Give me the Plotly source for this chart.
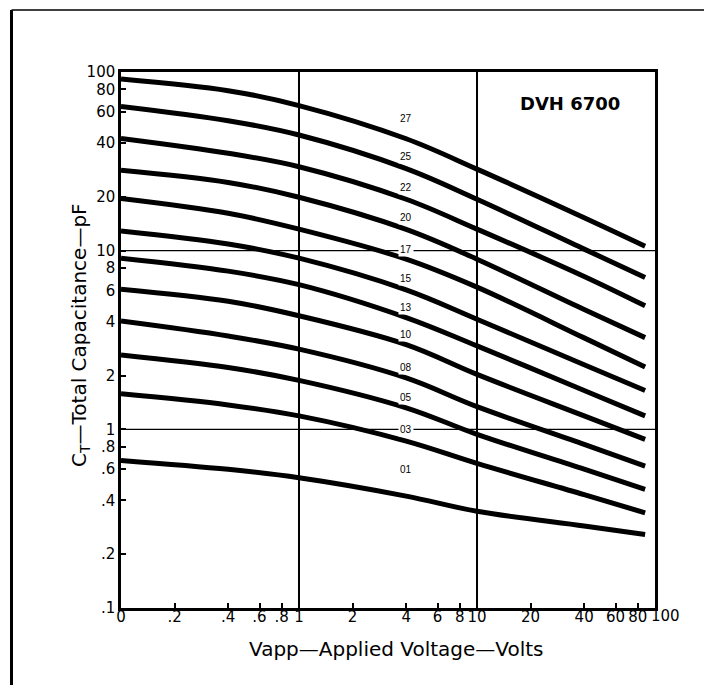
import math
import plotly.graph_objects as go

# ---------------- data ----------------
# Applied voltage sample points (V). "0" is drawn at the axis origin (0.1 position, labelled "0").
VOLTS = [0, 0.4, 1, 4, 10, 40, 88]

CURVE_NAMES = ["27", "25", "22", "20", "17", "15", "13", "10", "08", "05", "03", "01"]

C_27 = [91.4, 78.6, 64.9, 42.3, 28.6, 15.3, 10.6]
C_25 = [64.2, 53.4, 44.4, 28.8, 19.4, 10.2, 7.08]
C_22 = [42.5, 35.1, 29.5, 19.4, 13.2, 7.17, 4.91]
C_20 = [28.2, 24.1, 19.9, 13.15, 8.96, 4.68, 3.26]
C_17 = [19.6, 16.2, 13.2, 8.97, 6.25, 3.25, 2.23]
C_15 = [12.9, 10.9, 9.08, 6.03, 4.13, 2.30, 1.65]
C_13 = [9.08, 7.68, 6.45, 4.22, 2.93, 1.65, 1.19]
C_10 = [6.09, 5.21, 4.32, 2.98, 2.03, 1.19, 0.879]
C_08 = [4.04, 3.33, 2.81, 1.94, 1.34, 0.824, 0.623]
C_05 = [2.61, 2.22, 1.88, 1.32, 0.938, 0.598, 0.461]
C_03 = [1.58, 1.37, 1.19, 0.86, 0.645, 0.431, 0.341]
C_01 = [0.67, 0.597, 0.536, 0.423, 0.348, 0.288, 0.258]

CURVES = [C_27, C_25, C_22, C_20, C_17, C_15, C_13, C_10, C_08, C_05, C_03, C_01]

X_TICK_VALS = [0, 0.2, 0.4, 0.6, 0.8, 1, 2, 4, 6, 8, 10, 20, 40, 60, 80, 100]
X_TICK_TEXT = ["0", ".2", ".4", ".6", ".8", "1", "2", "4", "6", "8", "10", "20", "40", "60", "80", "100"]
Y_TICK_VALS = [0.1, 0.2, 0.4, 0.6, 0.8, 1, 2, 4, 6, 8, 10, 20, 40, 60, 80, 100]
Y_TICK_TEXT = [".1", ".2", ".4", ".6", ".8", "1", "2", "4", "6", "8", "10", "20", "40", "60", "80", "100"]

X_GRID = [1, 10]
Y_GRID = [1, 10]

X_TITLE = "Vapp—Applied Voltage—Volts"
Y_TITLE = "C<sub>T</sub>—Total Capacitance—pF"
PART = "DVH 6700"

LABEL_VOLT = 4  # curve labels sit above each curve at this voltage

# ---------------- helpers ----------------
X_ORIGIN = 0.1  # chart's "0" sits at the 0.1 position of the log axis


def ax_v(v):
    return X_ORIGIN if v == 0 else v


OFF = 8  # page body margin
W, H = 712 - OFF, 685 - OFF
PL, PR, PT, PB = 121, 655, 72, 608  # plot area in window pixels
L, T = PL - OFF, PT - OFF
R, B = W - (PR - OFF), H - (PB - OFF)
PW, PH = PR - PL, PB - PT


def px_x(p):
    return (p - PL) / PW


def px_y(p):
    return (PB - p) / PH


FONT = "DejaVu Sans, Liberation Sans, Arial, sans-serif"

fig = go.Figure()

# grid lines (as data lines)
for gx in X_GRID:
    fig.add_trace(go.Scatter(x=[gx, gx], y=[0.1, 100], mode="lines",
                             line=dict(color="black", width=2), hoverinfo="skip", showlegend=False))
for gy in Y_GRID:
    fig.add_trace(go.Scatter(x=[X_ORIGIN, 100], y=[gy, gy], mode="lines",
                             line=dict(color="black", width=1.3), hoverinfo="skip", showlegend=False))

# curves
for name, vals in zip(CURVE_NAMES, CURVES):
    fig.add_trace(go.Scatter(
        x=[ax_v(v) for v in VOLTS], y=vals, mode="lines", name=name,
        line=dict(color="black", width=5, shape="spline", smoothing=1.0),
        showlegend=False))

# curve labels
idx4 = VOLTS.index(LABEL_VOLT)
label_shift = [20, 12, 12, 12, 10, 11, 10, 10, 10, 10, 12, 27]
annotations = []
for name, vals, sh in zip(CURVE_NAMES, CURVES, label_shift):
    annotations.append(dict(
        x=math.log10(LABEL_VOLT), y=math.log10(vals[idx4]), xref="x", yref="y",
        text=name, showarrow=False, yshift=sh, bgcolor="white", borderpad=1,
        font=dict(family="Liberation Sans, Arial, sans-serif", size=10, color="black")))

annotations.append(dict(
    x=px_x(570), y=px_y(103), xref="paper", yref="paper", text="<b>" + PART + "</b>",
    showarrow=False, xanchor="center", yanchor="middle",
    font=dict(family=FONT, size=18, color="black")))

# last x tick label sits just right of its tick in the original (drawn separately)
annotations.append(dict(
    x=math.log10(X_TICK_VALS[-1]), y=px_y(616), xref="x", yref="paper", text=X_TICK_TEXT[-1],
    showarrow=False, xanchor="left", yanchor="middle", xshift=-6,
    font=dict(family=FONT, size=15, color="black")))

# axis titles
annotations.append(dict(
    x=px_x(396), y=px_y(649), xref="paper", yref="paper", text=X_TITLE,
    showarrow=False, xanchor="center", yanchor="middle",
    font=dict(family=FONT, size=20, color="black")))
annotations.append(dict(
    x=px_x(80), y=px_y(335), xref="paper", yref="paper", text=Y_TITLE, textangle=-90,
    showarrow=False, xanchor="center", yanchor="middle",
    font=dict(family=FONT, size=20, color="black")))

shapes = [
    # outer frame
    dict(type="line", xref="paper", yref="paper", x0=px_x(11.5), x1=px_x(11.5),
         y0=px_y(10), y1=px_y(685), line=dict(color="black", width=3)),
    dict(type="line", xref="paper", yref="paper", x0=px_x(11.5), x1=px_x(706),
         y0=px_y(10), y1=px_y(10), line=dict(color="black", width=1.5)),
    dict(type="line", xref="paper", yref="paper", x0=px_x(706), x1=px_x(706),
         y0=px_y(10), y1=px_y(595), line=dict(color="black", width=1.5)),
]

axis_common = dict(
    type="log", showgrid=False, zeroline=False, showline=True, mirror=True,
    linecolor="black", linewidth=2.5, ticks="inside", ticklen=5, tickwidth=1.5,
    tickcolor="black", tickangle=0, tickfont=dict(family=FONT, size=15, color="black"),
)

x_tick_text_axis = X_TICK_TEXT[:-1] + [""]

fig.update_layout(
    width=W, height=H, autosize=False,
    margin=dict(l=L, r=R, t=T, b=B, pad=0),
    paper_bgcolor="white", plot_bgcolor="white",
    xaxis=dict(range=[-1, 2], tickvals=[ax_v(v) for v in X_TICK_VALS], ticktext=x_tick_text_axis,
               ticklabelstandoff=-7, automargin=False, **axis_common),
    yaxis=dict(range=[-1, 2], tickvals=Y_TICK_VALS, ticktext=Y_TICK_TEXT,
               automargin=False, **axis_common),
    annotations=annotations,
    shapes=shapes,
    showlegend=False,
)

fig.write_html("out.html")
